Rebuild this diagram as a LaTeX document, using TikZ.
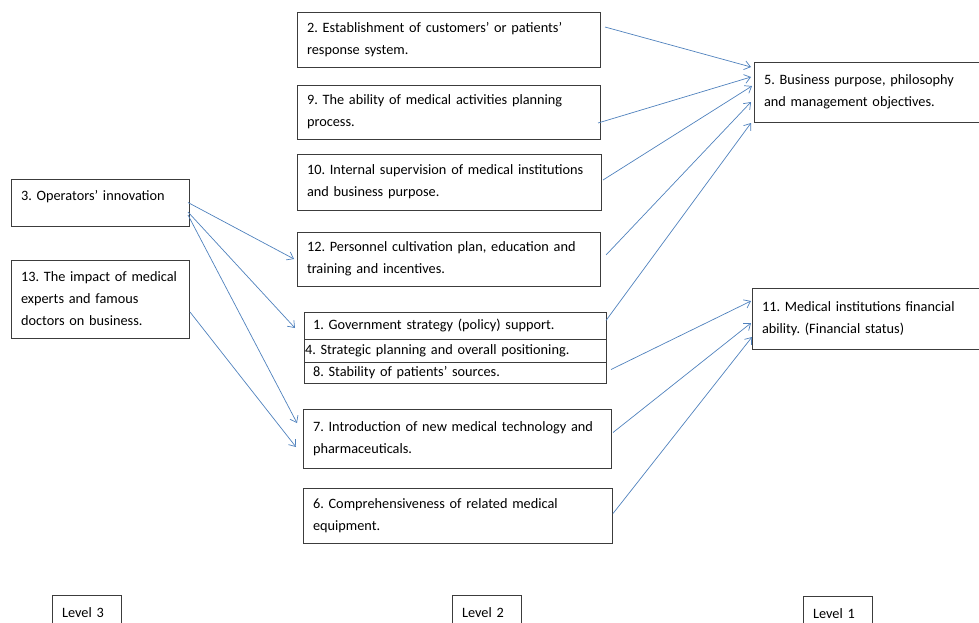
\documentclass[tikz,border=0pt]{standalone}
\usepackage{fontspec}
\setmainfont{Carlito}
\frenchspacing
\usetikzlibrary{arrows.meta}
\definecolor{linkblue}{RGB}{79, 129, 189}
\definecolor{boxgray}{RGB}{60, 60, 60}
\tikzset{
    box/.style={
        rectangle, draw=boxgray, line width=0.8pt, anchor=north west,
        inner xsep=10pt, inner ysep=2pt, outer sep=0pt, align=left,
        font=\fontsize{14.3}{22}\selectfont
    },
    rowbox/.style={box, inner xsep=9pt, text width=284pt},
    levelbox/.style={box, text width=49pt, minimum height=36pt},
    arrow/.style={-{Straight Barb[length=6pt, width=9pt]}, line width=0.7pt, color=linkblue},
}
\begin{document}
\begin{tikzpicture}[x=1pt, y=-1pt]
    \useasboundingbox (0,0) rectangle (979,622);

    % level 2
    \node[box, text width=283pt, minimum height=55pt] (b2) at (297,12) {2. Establishment of customers’ or patients’\\response system.};
    \node[box, text width=283pt, minimum height=54pt] (b9) at (297,85) {9. The ability of medical activities planning\\process.};
    \node[box, text width=284pt, minimum height=56pt] (b10) at (297,154) {10. Internal supervision of medical institutions\\and business purpose.};
    \node[box, text width=283pt, minimum height=54pt] (b12) at (297,232) {12. Personnel cultivation plan, education and\\training and incentives.};

    \node[rowbox, minimum height=27pt] (g1) at (304,312) {1. Government strategy (policy) support.};
    \node[rowbox, inner xsep=1pt, text width=300pt, minimum height=23pt] (g4) at (304,339) {4. Strategic planning and overall positioning.};
    \node[rowbox, minimum height=21pt] (g8) at (304,362) {8. Stability of patients’ sources.};

    \node[box, text width=288pt, minimum height=59pt] (b7) at (303,409) {7. Introduction of new medical technology and\\pharmaceuticals.};
    \node[box, text width=289pt, minimum height=55pt] (b6) at (303,488) {6. Comprehensiveness of related medical\\equipment.};

    % level 1
    \node[box, text width=230pt, minimum height=60pt] (b5) at (754,62) {5. Business purpose, philosophy\\and management objectives.};
    \node[box, text width=230pt, minimum height=61pt] (b11) at (752,288) {11. Medical institutions financial\\ability. (Financial status)};

    % level 3
    \node[box, text width=158pt, minimum height=47pt, text depth=15pt] (b3) at (11,179) {3. Operators’ innovation};
    \node[box, text width=158pt, minimum height=78pt] (b13) at (11,260) {13. The impact of medical\\experts and famous\\doctors on business.};

    \node[levelbox] (lv3) at (52,595) {Level 3};
    \node[levelbox] (lv2) at (452,595) {Level 2};
    \node[levelbox] (lv1) at (803,596) {Level 1};

    \draw[arrow] ([shift={(5,-12.5)}]b2.east) -- ([shift={(-3,-25)}]b5.west);
    \draw[arrow] ([shift={(-2,11)}]b9.east) -- ([shift={(-3,-15)}]b5.west);
    \draw[arrow] ([shift={(2,-2)}]b10.east) -- ([shift={(-2,-6)}]b5.west);
    \draw[arrow] ([shift={(6,-4)}]b12.east) -- ([shift={(-3,10)}]b5.west);
    \draw[arrow] ([shift={(0,-5)}]g1.east) -- ([shift={(-3,31)}]b5.west);

    \draw[arrow] ([shift={(5,-3)}]g8.east) -- ([shift={(-1,-17.5)}]b11.west);
    \draw[arrow] ([shift={(2,-6)}]b7.east) -- ([shift={(-1,4.5)}]b11.west);
    \draw[arrow] ([shift={(1,-2)}]b6.east) -- ([shift={(0,18.5)}]b11.west);

    \draw[arrow] ([shift={(-1,0)}]b3.east) -- ([shift={(-3,0)}]b12.west);
    \draw[arrow] ([shift={(-1,9.5)}]b3.east) -- ([shift={(-9,2.5)}]g1.west);
    \draw[arrow] ([shift={(-1,12.5)}]b3.east) -- ([shift={(-6,-15.5)}]b7.west);
    \draw[arrow] ([shift={(1,13)}]b13.east) -- ([shift={(-7,8.5)}]b7.west);
\end{tikzpicture}
\end{document}
